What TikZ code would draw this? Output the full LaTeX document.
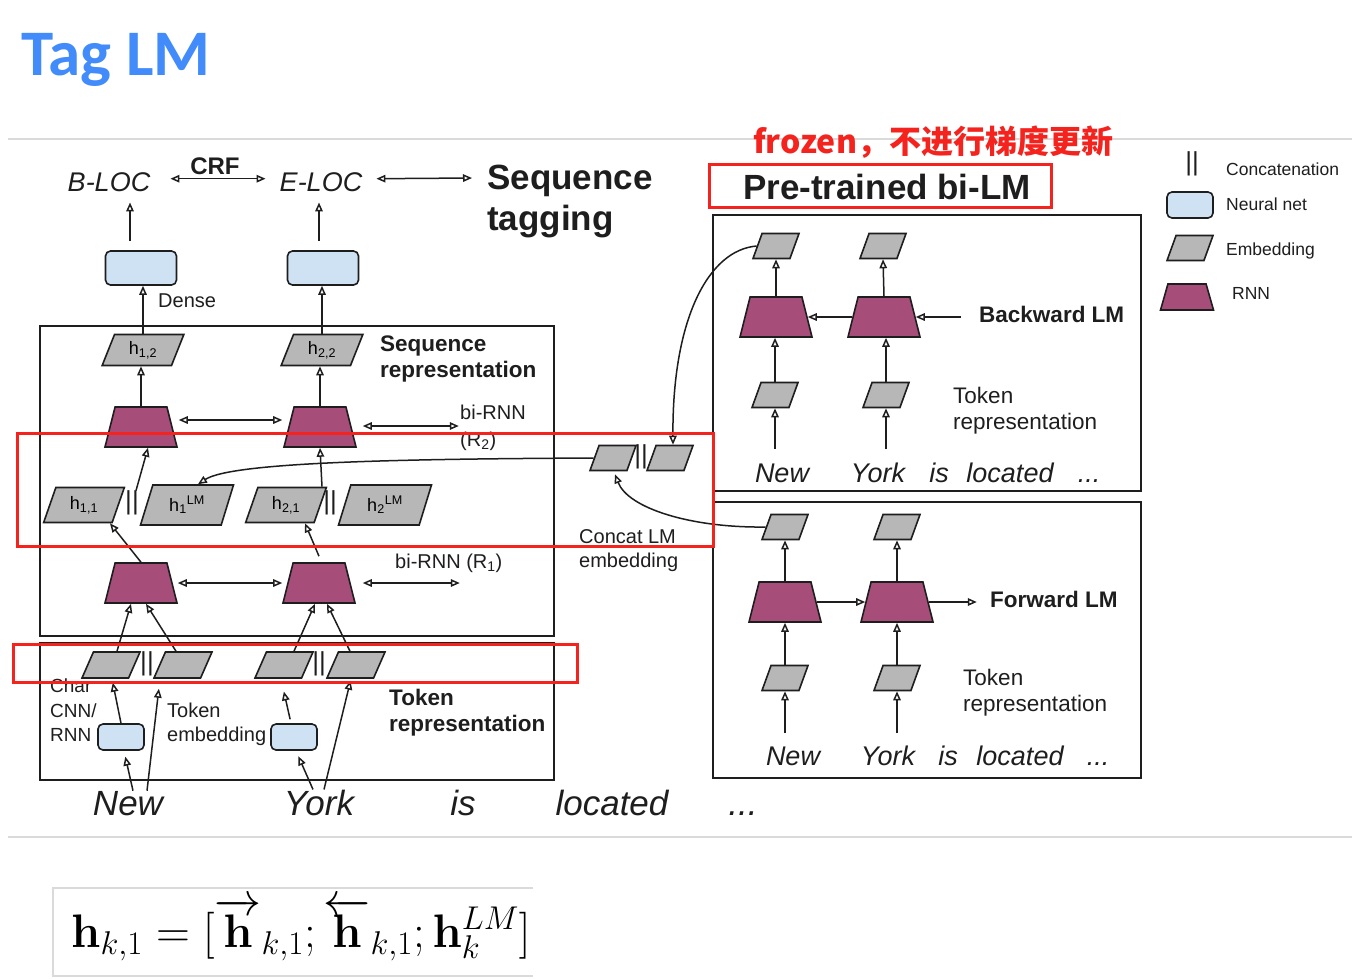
\RequirePackage{fix-cm}
\documentclass[tikz,border=0pt]{standalone}
\usepackage[no-math]{fontspec}
\setmainfont{Liberation Sans}
\newfontfamily\titlefont{Carlito}
\newfontfamily\cjkfont{Noto Sans CJK SC}
\usetikzlibrary{shapes.geometric,arrows.meta}

\definecolor{rnnred}{RGB}{166,77,121}
\definecolor{embgray}{RGB}{183,183,183}
\definecolor{nnblue}{RGB}{207,226,243}
\definecolor{ink}{RGB}{30,30,30}
\definecolor{markred}{RGB}{245,35,30}
\definecolor{titleblue}{RGB}{66,139,250}
\definecolor{rulegray}{RGB}{218,218,218}
\newcommand{\fsz}[2]{\fontsize{#1}{#2}\selectfont}

\tikzset{
  emb/.style={trapezium,trapezium left angle=72,trapezium right angle=108,
    trapezium stretches=true,draw=ink,fill=embgray,line width=1.6pt,
    minimum width=46pt,minimum height=25pt,inner sep=2pt,font=\fsz{18}{18}},
  rnn/.style={trapezium,trapezium left angle=79,trapezium right angle=79,
    trapezium stretches=true,draw=ink,fill=rnnred,line width=1.6pt,
    minimum width=72pt,minimum height=40pt},
  nnet/.style={draw=ink,fill=nnblue,rounded corners=5pt,line width=1.6pt,
    minimum width=46pt,minimum height=26pt},
  arr/.style={-{Triangle[open,length=9pt,width=7.5pt]},line width=1.5pt,draw=ink},
  darr/.style={{Triangle[open,length=9pt,width=7.5pt]}-{Triangle[open,length=9pt,width=7.5pt]},
    line width=1.5pt,draw=ink},
  frame/.style={draw=ink,line width=1.6pt},
  redbox/.style={draw=markred,line width=3pt},
  bars/.style={inner sep=0pt,text=ink,font=\fsz{26}{26}},
  txt/.style={inner sep=0pt,align=left,text=ink},
  lbl/.style={txt,font=\fsz{20}{24}},
  blbl/.style={txt,font=\bfseries\fsz{22.5}{26}},
  rlbl/.style={txt,font=\fsz{22.5}{26}},
  lgd/.style={txt,font=\fsz{17.5}{20}},
  tag/.style={txt,font=\itshape\fsz{27}{27}},
  word/.style={txt,anchor=base,font=\itshape\fsz{35}{35}},
  lmword/.style={txt,anchor=base,font=\itshape\fsz{27}{27}},
}

\begin{document}
\begin{tikzpicture}[x=1pt,y=-1pt]
\fill[white] (0,0) rectangle (1360,978);
\useasboundingbox (0,0) rectangle (1360,978);

% heading
\node[anchor=base west,inner sep=0pt,text=titleblue,font=\titlefont\bfseries\fsz{65}{65}] (title) at (21,75) {Tag LM};
\draw[rulegray,line width=1.2pt] (8,139) -- (1352,139);
\draw[rulegray,line width=1.2pt] (8,837) -- (1352,837);

% sequence tagging
\node[tag,anchor=base] (bloc) at (109,191) {B-LOC};
\node[tag,anchor=base] (eloc) at (321,191) {E-LOC};
\node[txt,anchor=base,font=\bfseries\fsz{24}{24}] (crf) at (215,174) {CRF};
\node[txt,anchor=north west,font=\bfseries\fsz{35}{41}] (seqtag) at (487,165) {Sequence\\tagging};
\draw[darr] ([xshift=20pt,yshift=3pt]bloc.east) -- ([xshift=-14pt,yshift=3pt]eloc.west);
\draw[darr] ([xshift=14pt,yshift=3pt]eloc.east) -- ([xshift=-15pt,yshift=-13pt]seqtag.north west);

\node[nnet,minimum width=71pt,minimum height=34pt] (dense1) at (141,268) {};
\node[nnet,minimum width=71pt,minimum height=34pt] (dense2) at (323,268) {};
\node[lbl,anchor=base west] (denselbl) at (158,307) {Dense};
\draw[arr] ([xshift=-11pt,yshift=9pt]dense1.north) -- ([xshift=21pt,yshift=-11pt]bloc.south);
\draw[arr] ([xshift=-4pt,yshift=9pt]dense2.north) -- ([xshift=-2pt,yshift=-11pt]eloc.south);

% sequence representation
\draw[frame] (40,326) rectangle (554,636);
\node[emb,minimum width=82pt,minimum height=31pt] (h12) at (143,350) {h\textsubscript{1,2}};
\node[emb,minimum width=82pt,minimum height=31pt] (h22) at (322,350) {h\textsubscript{2,2}};
\node[blbl,anchor=north west] (seqrep) at (380,336) {Sequence\\representation};
\draw[arr] (h12.north) -- (h12.north |- dense1.south);
\draw[arr] (h22.north) -- (h22.north |- dense2.south);

\node[rnn] (r2a) at (141,427) {};
\node[rnn] (r2b) at (320,427) {};
\node[lbl,anchor=north west,font=\fsz{20}{27}] (birnn2) at (460,405) {bi-RNN\\(R\textsubscript{2})};
\draw[arr] (r2a.north) -- (r2a.north |- h12.south);
\draw[arr] (r2b.north) -- (r2b.north |- h22.south);
\draw[darr] ([xshift=6pt,yshift=7pt]r2a.east) -- ([xshift=-6pt,yshift=7pt]r2b.west);
\draw[darr] ([xshift=11pt,yshift=1pt]r2b.east) -- ([xshift=107pt,yshift=1pt]r2b.east);

\node[emb,minimum width=81pt,minimum height=35pt] (h11) at (84,505) {h\textsubscript{1,1}};
\node[bars] (bar1) at (132,503) {||};
\node[emb,minimum width=93pt,minimum height=40pt] (h1lm) at (187,505) {h\textsubscript{1}\textsuperscript{LM}};
\node[emb,minimum width=81pt,minimum height=35pt] (h21) at (286,505) {h\textsubscript{2,1}};
\node[bars] (bar2) at (330,503) {||};
\node[emb,minimum width=93pt,minimum height=40pt] (h2lm) at (385,505) {h\textsubscript{2}\textsuperscript{LM}};
\draw[arr] ([xshift=4pt]bar1.north) -- ([xshift=7pt]r2a.south);
\draw[arr] ([xshift=36pt]h21.north) -- (r2b.south);

\node[rnn] (r1a) at (141,583) {};
\node[rnn] (r1b) at (319,583) {};
\node[lbl,anchor=base west] (birnn1) at (395,568) {bi-RNN (R\textsubscript{1})};
\draw[arr] (r1a.north) -- ([xshift=26pt]h11.south);
\draw[arr] ([yshift=6pt]r1b.north) -- ([xshift=19pt]h21.south);
\draw[darr] ([xshift=5pt]r1a.east) -- ([xshift=-5pt]r1b.west);
\draw[darr] ([xshift=12pt]r1b.east) -- ([xshift=109pt]r1b.east);

% token representation
\draw[frame] (40,643) rectangle (554,780);
\node[emb,minimum width=58pt,minimum height=26pt] (ch1) at (111,665) {};
\node[bars] (bar3) at (147,664) {||};
\node[emb,minimum width=58pt,minimum height=26pt] (te1) at (183,665) {};
\node[emb,minimum width=58pt,minimum height=26pt] (ch2) at (284,665) {};
\node[bars] (bar4) at (319,664) {||};
\node[emb,minimum width=58pt,minimum height=26pt] (te2) at (356,665) {};
\draw[arr] ([xshift=6pt]ch1.north) -- ([xshift=-10pt]r1a.south);
\draw[arr] ([xshift=-7pt]te1.north) -- ([xshift=5pt]r1a.south);
\draw[arr] ([xshift=10pt]ch2.north) -- ([xshift=-4pt]r1b.south);
\draw[arr] ([xshift=-6pt]te2.north) -- ([xshift=8pt]r1b.south);

\node[lbl,anchor=north west,font=\fsz{19}{24.5}] (charlbl) at (50,679) {Char\\CNN/\\RNN};
\node[nnet] (nn1) at (121,737) {};
\node[lbl,anchor=north west] (toklbl) at (167,703) {Token\\embedding};
\node[nnet] (nn2) at (294,737) {};
\node[blbl,anchor=north west] (tokrep) at (389,689) {Token\\representation};
\draw[arr,shorten >=4pt] (nn1.north) -- ([xshift=1pt]ch1.south);
\draw[arr,shorten <=4pt,shorten >=13pt] ([xshift=-3pt]nn2.north) -- ([xshift=-3pt]ch2.south);

\node[word] (new) at (128,815) {New};
\node[word] (york) at (319,815) {York};
\node[word] (is) at (463,815) {is};
\node[word] (located) at (612,815) {located};
\node[word] (dots) at (743,815) {...};
\draw[arr,shorten >=6pt] ([xshift=5pt]new.north) -- ([xshift=3pt]nn1.south);
\draw[arr,shorten >=10pt] ([xshift=19pt]new.north) -- ([xshift=-23pt]te1.south);
\draw[arr,shorten >=6pt] ([xshift=-6pt]york.north) -- ([xshift=2pt]nn2.south);
\draw[arr,shorten >=2pt] ([xshift=5pt]york.north) -- ([xshift=-5pt]te2.south);

% concat LM embedding
\node[emb] (cl1) at (613,458) {};
\node[bars] (bar5) at (641,457) {||};
\node[emb] (cl2) at (670,458) {};
\node[lbl,anchor=north west] (concatlbl) at (579,529) {Concat LM\\embedding};

% pre-trained bi-LM
\node[txt,anchor=base west,text=markred,font=\cjkfont\bfseries\fsz{32}{32}] (frozen) at (753,153) {frozen，不进行梯度更新};
\node[txt,anchor=base,font=\bfseries\fsz{35}{35}] (pretrained) at (887,199) {Pre-trained bi-LM};

% backward LM
\draw[frame] (713,215) rectangle (1141,491);
\node[emb] (bt1) at (776,246) {};
\node[emb] (bt2) at (883,246) {};
\node[rnn] (br1) at (776,317) {};
\node[rnn] (br2) at (884,317) {};
\node[emb] (bte1) at (775,395) {};
\node[emb] (bte2) at (886,395) {};
\node[txt,anchor=base west,font=\bfseries\fsz{22.5}{22.5}] (bwlbl) at (979,322) {Backward LM};
\node[rlbl,anchor=north west] (btoklbl) at (953,387) {Token\\representation};
\node[lmword] (bnew) at (782,482) {New};
\node[lmword] (byork) at (878,482) {York};
\node[lmword] (bis) at (939,482) {is};
\node[lmword] (blocated) at (1010,482) {located};
\node[lmword] (bdots) at (1089,482) {...};
\draw[arr] (br1.north) -- (bt1.south);
\draw[arr] (br2.north) -- (bt2.south);
\draw[arr] (bte1.north) -- (bte1.north |- br1.south);
\draw[arr] (bte2.north) -- (bte2.north |- br2.south);
\draw[arr,shorten <=14pt] (bte1.south |- bnew.north) -- (bte1.south);
\draw[arr,shorten <=14pt] (bte2.south |- bnew.north) -- (bte2.south);
\draw[arr] (br2.west) -- (br1.east);
\draw[arr] ([xshift=45pt]br2.east) -- (br2.east);

% forward LM
\draw[frame] (713,502) rectangle (1141,778);
\node[emb] (ft1) at (785,527) {};
\node[emb] (ft2) at (897,527) {};
\node[rnn] (fr1) at (785,602) {};
\node[rnn] (fr2) at (897,602) {};
\node[emb] (fte1) at (785,678) {};
\node[emb] (fte2) at (897,678) {};
\node[txt,anchor=base west,font=\bfseries\fsz{22.5}{22.5}] (fwlbl) at (990,607) {Forward LM};
\node[rlbl,anchor=north west] (ftoklbl) at (963,669) {Token\\representation};
\node[lmword] (fnew) at (793,765) {New};
\node[lmword] (fyork) at (888,765) {York};
\node[lmword] (fis) at (948,765) {is};
\node[lmword] (flocated) at (1020,765) {located};
\node[lmword] (fdots) at (1098,765) {...};
\draw[arr] (fr1.north) -- (ft1.south);
\draw[arr] (fr2.north) -- (ft2.south);
\draw[arr] (fte1.north) -- (fr1.south);
\draw[arr] (fte2.north) -- (fr2.south);
\draw[arr,shorten <=13pt] (fte1.south |- fnew.north) -- (fte1.south);
\draw[arr,shorten <=13pt] (fte2.south |- fnew.north) -- (fte2.south);
\draw[arr] (fr1.east) -- (fr2.west);
\draw[arr] (fr2.east) -- ([xshift=48pt]fr2.east);

% LM embeddings into the tagger
\draw[arr] (cl1.west) .. controls (400,459) and (232,462) .. ([xshift=11pt]h1lm.north);
\draw[arr] (bt1.west) .. controls (708,250) and (672,320) .. ([xshift=3pt]cl2.north);
\draw[arr] (ft1.west) .. controls (690,528) and (628,508) .. ([xshift=2pt,yshift=-3pt]cl1.south);

% legend
\node[bars] (lgbar) at (1192,164) {||};
\node[lgd,anchor=base west] (lgcat) at (1226,175) {Concatenation};
\node[nnet] (lgnn) at (1190,205) {};
\node[lgd,anchor=base west] (lgnnlbl) at (1226,210) {Neural net};
\node[emb] (lgemb) at (1190,248) {};
\node[lgd,anchor=base west] (lgemblbl) at (1226,255) {Embedding};
\node[rnn,minimum width=53pt,minimum height=26pt] (lgrnn) at (1187,297) {};
\node[lgd,anchor=base west] (lgrnnlbl) at (1232,299) {RNN};

% highlights
\draw[redbox] (17,433) rectangle (713,546);
\draw[redbox] (13,644) rectangle (577,682);
\draw[redbox] (709,164) rectangle (1051,207);

% formula
\draw[rulegray,line width=1.2pt] (533,888) -- (53,888) -- (53,976) -- (533,976);
\node[anchor=base west,inner sep=0pt,font=\fsz{47}{47}] (eq) at (71,947)
  {$\mathbf{h}_{k,1} = [\overrightarrow{\mathbf{h}}_{k,1}; \overleftarrow{\mathbf{h}}_{k,1}; \mathbf{h}_k^{LM}]$};
\end{tikzpicture}
\end{document}
